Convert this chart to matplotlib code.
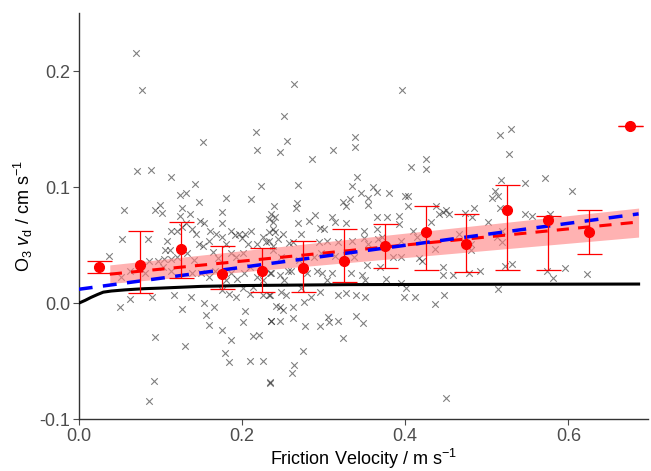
import numpy as np
import matplotlib
matplotlib.use("Agg")
import matplotlib.pyplot as plt

plt.rcParams['font.family'] = ['Liberation Sans', 'DejaVu Sans']
plt.rcParams['mathtext.fontset'] = 'custom'
plt.rcParams['mathtext.rm'] = 'Liberation Sans'
plt.rcParams['mathtext.it'] = 'Liberation Sans:italic'

# individual flux measurements (u*, vd)
obs_x = [0.070, 0.078, 0.217, 0.152, 0.219, 0.071, 0.089, 0.113, 0.142, 0.223, 0.124, 0.131, 0.180, 0.211, 0.147,
         0.055, 0.099, 0.093, 0.102, 0.127, 0.175, 0.124, 0.136, 0.233, 0.238, 0.053, 0.037, 0.085, 0.108, 0.113,
         0.120, 0.126, 0.132, 0.139, 0.144, 0.148, 0.154, 0.161, 0.168, 0.176, 0.175, 0.186, 0.191, 0.196, 0.200,
         0.204, 0.211, 0.226, 0.233, 0.238, 0.112, 0.106, 0.104, 0.113, 0.120, 0.133, 0.141, 0.147, 0.152, 0.160,
         0.164, 0.170, 0.181, 0.186, 0.193, 0.201, 0.207, 0.218, 0.230, 0.238, 0.052, 0.063, 0.081, 0.086, 0.097,
         0.103, 0.113, 0.139, 0.150, 0.160, 0.167, 0.180, 0.187, 0.194, 0.202, 0.210, 0.218, 0.226, 0.234, 0.063,
         0.051, 0.090, 0.117, 0.126, 0.137, 0.154, 0.156, 0.160, 0.166, 0.176, 0.184, 0.193, 0.201, 0.204, 0.210,
         0.214, 0.226, 0.234, 0.236, 0.201, 0.176, 0.186, 0.214, 0.221, 0.093, 0.130, 0.179, 0.184, 0.210, 0.226,
         0.092, 0.234, 0.086, 0.242,
         0.264, 0.396, 0.251, 0.255, 0.246, 0.338, 0.338, 0.311, 0.286, 0.425, 0.425, 0.407, 0.341, 0.269, 0.335,
         0.360, 0.366, 0.380, 0.346, 0.354, 0.355, 0.400, 0.404, 0.332, 0.324, 0.328, 0.267, 0.266, 0.239, 0.235,
         0.240, 0.403, 0.438, 0.446, 0.450, 0.454, 0.290, 0.282, 0.310, 0.314, 0.328, 0.269, 0.296, 0.300, 0.365,
         0.378, 0.393, 0.393, 0.409, 0.432, 0.441, 0.240, 0.250, 0.272, 0.349, 0.365, 0.233, 0.244, 0.257, 0.263,
         0.294, 0.304, 0.318, 0.335, 0.350, 0.355, 0.367, 0.372, 0.395, 0.415, 0.417, 0.436, 0.466, 0.238, 0.248,
         0.256, 0.270, 0.288, 0.297, 0.314, 0.337, 0.353, 0.369, 0.385, 0.395, 0.421, 0.446, 0.446, 0.458, 0.236,
         0.246, 0.252, 0.260, 0.280, 0.292, 0.298, 0.304, 0.310, 0.333, 0.347, 0.351, 0.377, 0.395, 0.401, 0.233,
         0.248, 0.254, 0.272, 0.284, 0.296, 0.318, 0.328, 0.340, 0.351, 0.399, 0.412, 0.448, 0.436, 0.246, 0.250,
         0.262, 0.276, 0.235, 0.247, 0.262, 0.277, 0.295, 0.306, 0.307, 0.318, 0.340, 0.348, 0.324, 0.275, 0.264,
         0.261, 0.234, 0.450,
         0.530, 0.516, 0.527, 0.517, 0.547, 0.571, 0.604, 0.510, 0.506, 0.514, 0.516, 0.473, 0.484, 0.482, 0.502,
         0.547, 0.555, 0.578, 0.518, 0.512, 0.518, 0.481, 0.481, 0.522, 0.531, 0.478, 0.492, 0.574, 0.581, 0.596,
         0.623, 0.514]
obs_y = [0.216, 0.184, 0.148, 0.139, 0.132, 0.114, 0.115, 0.109, 0.103, 0.101, 0.093, 0.095, 0.091, 0.090, 0.087,
         0.080, 0.085, 0.080, 0.078, 0.082, 0.079, 0.075, 0.077, 0.073, 0.070, 0.055, 0.041, 0.055, 0.054, 0.062,
         0.062, 0.066, 0.069, 0.064, 0.060, 0.071, 0.069, 0.062, 0.060, 0.069, 0.057, 0.062, 0.059, 0.060, 0.056,
         0.060, 0.062, 0.057, 0.061, 0.064, 0.046, 0.046, 0.038, 0.038, 0.040, 0.043, 0.037, 0.051, 0.049, 0.054,
         0.044, 0.039, 0.051, 0.043, 0.040, 0.043, 0.051, 0.051, 0.053, 0.049, 0.023, 0.028, 0.026, 0.036, 0.036,
         0.031, 0.028, 0.026, 0.026, 0.023, 0.028, 0.020, 0.026, 0.021, 0.026, 0.031, 0.023, 0.020, 0.026, 0.004,
         -0.003, 0.005, 0.007, -0.005, 0.005, 0.000, -0.010, -0.019, -0.003, 0.011, 0.008, 0.005, 0.013, -0.007, 0.008,
         0.014, 0.007, 0.007, -0.015, -0.016, -0.023, -0.032, -0.028, -0.027, -0.029, -0.037, -0.043, -0.051, -0.050, -0.050,
         -0.067, -0.068, -0.084, -0.002,
         0.189, 0.184, 0.161, 0.140, 0.130, 0.143, 0.135, 0.132, 0.124, 0.124, 0.116, 0.117, 0.109, 0.102, 0.101,
         0.100, 0.096, 0.095, 0.095, 0.091, 0.085, 0.092, 0.092, 0.090, 0.087, 0.084, 0.086, 0.082, 0.084, 0.077,
         0.074, 0.084, 0.084, 0.079, 0.080, 0.077, 0.076, 0.071, 0.074, 0.070, 0.069, 0.069, 0.065, 0.064, 0.074,
         0.074, 0.075, 0.068, 0.062, 0.070, 0.077, 0.061, 0.060, 0.060, 0.062, 0.064, 0.054, 0.055, 0.052, 0.053,
         0.053, 0.054, 0.053, 0.054, 0.056, 0.051, 0.055, 0.057, 0.054, 0.057, 0.039, 0.047, 0.060, 0.046, 0.040,
         0.028, 0.037, 0.040, 0.043, 0.041, 0.040, 0.033, 0.031, 0.040, 0.040, 0.036, 0.031, 0.024, 0.024, 0.026,
         0.024, 0.020, 0.028, 0.026, 0.028, 0.026, 0.020, 0.026, 0.026, 0.024, 0.020, 0.021, 0.017, 0.013, 0.007,
         0.010, 0.007, 0.013, 0.005, 0.010, 0.007, 0.009, 0.007, 0.005, 0.005, 0.005, 0.007, -0.001, -0.003, -0.006,
         -0.003, 0.001, -0.015, -0.015, -0.013, -0.020, -0.020, -0.012, -0.016, -0.015, -0.011, -0.017, -0.030, -0.041, -0.053,
         -0.060, -0.069, -0.082,
         0.150, 0.145, 0.129, 0.106, 0.104, 0.108, 0.097, 0.097, 0.091, 0.092, 0.082, 0.078, 0.082, 0.074, 0.070,
         0.077, 0.075, 0.077, 0.062, 0.057, 0.053, 0.051, 0.046, 0.032, 0.034, 0.026, 0.028, 0.028, 0.022, 0.030,
         0.025, 0.012]

# binned means with spread
bin_x = [0.025, 0.075, 0.125, 0.175, 0.225, 0.275, 0.325, 0.375, 0.425, 0.475, 0.525, 0.575, 0.625, 0.675]
bin_mean = [0.031, 0.033, 0.047, 0.025, 0.028, 0.030, 0.036, 0.049, 0.061, 0.051, 0.080, 0.072, 0.061, 0.153]
bin_lo = [0.026, 0.009, 0.022, 0.012, 0.010, 0.010, 0.018, 0.030, 0.029, 0.027, 0.029, 0.029, 0.042, 0.153]
bin_hi = [0.036, 0.062, 0.070, 0.049, 0.048, 0.054, 0.064, 0.068, 0.084, 0.077, 0.102, 0.075, 0.080, 0.153]

# linear fit to bins (red) with confidence band
fit_x = [0.038, 0.686]
fit_y = [0.025, 0.070]
fit_lo = [0.017, 0.057]
fit_hi = [0.033, 0.082]

# fit to all data (blue)
all_x = [0.0, 0.686]
all_y = [0.012, 0.077]

# model curve (black)
mod_x = [0.0, 0.008, 0.015, 0.023, 0.030, 0.040, 0.057, 0.080, 0.100, 0.150, 0.200, 0.330, 0.500, 0.686]
mod_y = [0.0, 0.0025, 0.005, 0.0075, 0.0095, 0.0105, 0.0115, 0.0125, 0.013, 0.0145, 0.0152, 0.016, 0.0163, 0.0165]

fig = plt.figure(figsize=(6.51, 4.71), dpi=100)
ax = fig.add_axes([0.121, 0.110, 0.875, 0.862])

ax.scatter(obs_x, obs_y, marker='x', s=22, color='black', alpha=0.5, linewidths=0.8, zorder=1)
ax.fill_between(fit_x, fit_lo, fit_hi, color='#ff8080', alpha=0.6, linewidth=0, zorder=2)
ax.plot(mod_x, mod_y, color='black', lw=2.2, zorder=3)
ax.plot(fit_x, fit_y, color='red', lw=2.2, dashes=(4, 3), zorder=4)
ax.plot(all_x, all_y, color='blue', lw=2.5, dashes=(4, 3), zorder=5)

mean = np.array(bin_mean)
yerr = [mean - np.array(bin_lo), np.array(bin_hi) - mean]
ax.errorbar(bin_x, bin_mean, yerr=yerr, fmt='o', color='red', ms=7, elinewidth=0.9,
            capsize=9, capthick=0.9, zorder=6)

ax.set_xlim(0, 0.698)
ax.set_ylim(-0.1, 0.25)
ax.set_xticks([0.0, 0.2, 0.4, 0.6])
ax.set_yticks([-0.1, 0.0, 0.1, 0.2])
ax.set_xticklabels(['0.0', '0.2', '0.4', '0.6'])
ax.set_yticklabels(['-0.1', '0.0', '0.1', '0.2'])
ax.tick_params(colors='#4d4d4d', labelsize=13, length=4, width=0.8, pad=2)
for side in ['top', 'right']:
    ax.spines[side].set_visible(False)
for side in ['left', 'bottom']:
    ax.spines[side].set_color('#333333')
    ax.spines[side].set_linewidth(1.0)

ax.set_xlabel(r'Friction Velocity / m s$^{-1}$', fontsize=13, labelpad=2)
ax.set_ylabel(r'O$_3$ $v_{\mathrm{d}}$ / cm s$^{-1}$', fontsize=13, labelpad=3)

fig.savefig('out.png', dpi=100)
